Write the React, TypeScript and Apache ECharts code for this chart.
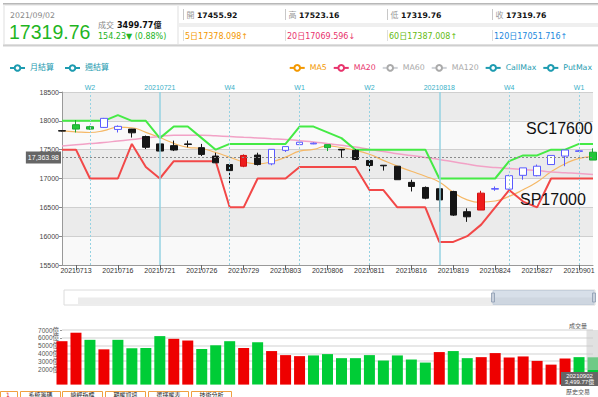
import React, { useEffect, useRef } from "react";
import * as echarts from "echarts";

// ---------------- data ----------------
const dates = [
  "20210712","20210713","20210714","20210715","20210716","20210719","20210720","20210721","20210722","20210723",
  "20210726","20210727","20210728","20210729","20210730","20210802","20210803","20210804","20210805","20210806",
  "20210809","20210810","20210811","20210812","20210813","20210816","20210817","20210818","20210819","20210820",
  "20210823","20210824","20210825","20210826","20210827","20210830","20210831","20210901","20210902",
];
const openPrice = [17830,17933,17898,17886,17851,17857,17728,17600,17570,17600,17535,17389,17242,17213,17406,17254,17488,17587,17600,17587,17506,17488,17313,17230,17213,16933,16845,16822,16775,16424,16453,16815,16816,17055,17049,17242,17389,17470,17455.92];
const closePrice = [17822,17857,17857,18043,17904,17792,17541,17476,17494,17590,17418,17272,17137,17400,17242,17506,17553,17629,17612,17535,17495,17330,17225,17220,16979,16862,16658,16629,16365,16336,16746,16825,17049,17184,17213,17400,17494,17480,17319.76];
const lowPrice = [17815,17798,17845,17880,17798,17710,17511,17460,17476,17541,17390,17272,16896,17196,17225,17230,17460,17587,17595,17476,17360,17313,17096,17137,16979,16775,16640,16424,16350,16248,16453,16787,16805,16979,17038,17242,17213,17460,17319.76];
const highPrice = [17836,18014,17915,18050,17921,17860,17745,17612,17657,17657,17600,17447,17271,17418,17447,17506,17553,17629,17625,17587,17506,17506,17330,17230,17213,16979,16862,16830,16787,16482,16787,16862,17066,17184,17242,17400,17494,17494,17523.16];
// k = black, g = green, r = red, b = blue hollow
const candleKind = "kggbbkkkkkkkkrkbbbbgkkkkkkkkkkrbbbbbbbg".split("");

const ma5 = [17827,17810,17798,17830,17890,17880,17800,17710,17610,17540,17520,17450,17370,17290,17255,17290,17370,17475,17505,17565,17535,17490,17420,17315,17215,17125,17040,16940,16760,16630,16590,16610,16690,16805,16940,17115,17255,17350,17378.098];
const ma20 = [17564,17585,17605,17625,17650,17675,17705,17730,17750,17752,17750,17740,17728,17715,17703,17690,17678,17655,17635,17605,17576,17545,17505,17470,17430,17400,17365,17330,17290,17250,17213,17190,17172,17155,17140,17114,17100,17088,17069.596];
const callMax = [18000,18000,18000,18000,18100,18000,18000,17700,17900,17900,17700,17500,17600,17600,17600,17600,17600,17900,17900,17800,17700,17500,17500,17500,17500,17500,17500,17000,17000,17000,17000,17000,17300,17400,17400,17500,17500,17600,17600];
const putMax = [17500,17500,17000,17000,17000,17600,17200,17000,17300,17300,17300,17300,16500,16500,17000,17000,17000,17200,17200,17200,17200,17200,16800,16800,16500,16500,16500,15900,15900,16000,16200,16500,16800,16600,16500,17000,17000,17000,17000];

const volume = [5565,6652,5740,4520,5740,4650,4690,6217,5870,5650,4565,5040,5565,4690,5430,4300,3780,3650,3740,3910,3390,3390,3780,3085,3740,3215,2825,4170,4300,3390,3520,4040,3475,3610,3040,2560,3345,3520,3499.77];
const volumeKind = ("rrgrg" + "gggrr" + "gggrg" + "rrrgg" + "ggggg" + "ggrgg" + "rrrrr" + "rrgg").split("");

const monthlySettle = [
  { date: "20210721", label: "20210721" },
  { date: "20210818", label: "20210818" },
];
const weeklySettle = [
  { date: "20210714", label: "W2" },
  { date: "20210728", label: "W4" },
  { date: "20210804", label: "W1" },
  { date: "20210811", label: "W2" },
  { date: "20210825", label: "W4" },
  { date: "20210901", label: "W1" },
];
const refPrice = 17363.98;
const priceMin = 15500, priceMax = 18500, priceStep = 500;
const volMin = 2000, volMax = 7000, volStep = 1000;

const headerDate = "2021/09/02";
const headerLast = "17319.76";
const headerTurnover = "3499.77億";
const headerChange = "154.23▼ (0.88%)";
const ohlcLabels = ["開", "高", "低", "收"];
const ohlcValues = ["17455.92", "17523.16", "17319.76", "17319.76"];
const maTexts = ["5日17378.098↑", "20日17069.596↓", "60日17387.008↑", "120日17051.716↑"];
const callText = "SC17600";
const putText = "SP17000";
const lastVolDate = "20210902";
const lastVolText = "3,499.77億";
const tabTexts = ["系統籌碼", "總經指標", "期權資訊", "選擇權表", "技術分析"];

// ---------------- styles ----------------
const FONT = "'DejaVu Sans','Noto Sans CJK TC',sans-serif";
const FONT2 = "'Liberation Sans','Noto Sans CJK TC',sans-serif";
const TEAL = "#1d9bb0";
const VLINE = "#95d2e2";
const kindStyle: Record<string, any> = {
  k: { color: "#151515", color0: "#151515", borderColor: "#151515", borderColor0: "#151515" },
  g: { color: "#22c83a", color0: "#22c83a", borderColor: "#1aa830", borderColor0: "#1aa830" },
  r: { color: "#ee1c1c", color0: "#ee1c1c", borderColor: "#d01010", borderColor0: "#d01010" },
  b: { color: "#ffffff", color0: "#ffffff", borderColor: "#5a5aff", borderColor0: "#5a5aff" },
};
const volColor: Record<string, string> = { r: "#ee0000", g: "#00cc36" };
const maColors = ["#f39800", "#e8336c", "#66bb11", "#2288dd"];
const cellX = [183.5, 285.5, 387.5, 492.5];

const txt = (x: number, y: number, text: string, fill: string, fontSize: number, o: any = {}) => ({
  type: "text",
  x,
  y,
  z: o.z ?? 10,
  style: {
    text,
    fill,
    fontSize,
    fontFamily: o.family ?? FONT,
    fontWeight: o.weight ?? "normal",
    align: o.align ?? "left",
    verticalAlign: "middle",
  },
});
const rect = (x: number, y: number, w: number, h: number, style: any, z = 1) => ({
  type: "rect",
  z,
  shape: { x, y, width: w, height: h },
  style,
});
const vline = (x: number, y1: number, y2: number, stroke: string) => ({
  type: "line",
  z: 5,
  shape: { x1: x, y1, x2: x, y2 },
  style: { stroke, lineWidth: 1 },
});

function buildOption() {
  const labelEvery = (i: number) => i % 3 === 1;

  const graphic: any[] = [
    rect(3, 3, 595, 43, { fill: "#efefef" }),
    rect(3, 3, 595, 1.5, { fill: "#b8b8b8" }, 2),
    rect(3, 44.5, 595, 2, { fill: "#cfcfcf" }, 2),
    rect(5, 6, 172, 38, { fill: "#ffffff" }, 2),
    rect(179, 6, 419, 17, { fill: "#ffffff" }, 2),
    rect(179, 27, 419, 17, { fill: "#ffffff" }, 2),
    txt(10, 15, headerDate, "#888", 7.8),
    txt(9, 31.5, headerLast, "#1fb51f", 19.5, { family: FONT2 }),
    txt(98, 25, "成交", "#888", 8),
    txt(117, 25, headerTurnover, "#111", 8, { weight: "bold" }),
    txt(98, 36, headerChange, "#22b422", 8),
  ];
  cellX.forEach((x, i) => {
    graphic.push(vline(x, 9, 20, "#c8c8c8"));
    graphic.push(vline(x, 30, 41, "#dddddd"));
    graphic.push(txt(x + 3, 15, ohlcLabels[i], "#999", 8));
    graphic.push(txt(x + 13.5, 15, ohlcValues[i], "#111", 7.7, { weight: "bold" }));
    graphic.push(txt(x + 1.5, 36, maTexts[i], maColors[i], 8));
  });
  // annotations
  graphic.push(txt(526, 128, callText, "#111", 16, { family: FONT2, z: 20 }));
  graphic.push(txt(520, 199, putText, "#111", 16, { family: FONT2, z: 20 }));
  // slider look
  graphic.push(rect(64, 290, 531, 15, { fill: "#ffffff", stroke: "#dcdcdc", lineWidth: 1 }, 2));
  graphic.push(rect(78, 297.5, 516, 7, { fill: "#ececec" }, 3));
  graphic.push(rect(493, 290.5, 101, 14, { fill: "rgba(176,192,212,0.5)", stroke: "#c5cfdb", lineWidth: 1 }, 4));
  graphic.push(rect(491.5, 293, 3, 9, { fill: "#c8d0dc", stroke: "#8a9ab0", lineWidth: 0.8 }, 5));
  graphic.push(rect(592.5, 293, 3, 9, { fill: "#c8d0dc", stroke: "#8a9ab0", lineWidth: 0.8 }, 5));
  // volume hover/label
  graphic.push(rect(586.5, 330, 11.5, 40, { fill: "rgba(200,200,200,0.55)" }, 100));
  graphic.push(txt(578, 325, "成交量", "#555", 6, { align: "center" }));
  graphic.push(rect(561, 372, 37, 14, { fill: "#666" }, 100));
  graphic.push(txt(579.5, 376.3, lastVolDate, "#fff", 6, { align: "center", family: FONT2, z: 101 }));
  graphic.push(txt(579.5, 382.3, lastVolText, "#fff", 6, { align: "center", family: FONT2, z: 101 }));
  graphic.push(txt(578, 391.5, "歷史交易", "#555", 6, { align: "center" }));
  // bottom tabs
  graphic.push(rect(0.5, 391.5, 17, 10, { fill: "#fff", stroke: "#f0a040", lineWidth: 1 }, 2));
  graphic.push(txt(6, 394.3, "1", "#e02020", 6, { z: 3 }));
  const tabX = [20.5, 62.5, 105.5, 148.5, 191.5];
  tabX.forEach((x, i) => {
    graphic.push(rect(x, 391.5, 40, 10, { fill: "#fff", stroke: "#f0a040", lineWidth: 1 }, 2));
    graphic.push(txt(x + 20, 394.3, tabTexts[i], "#222", 6, { align: "center", z: 3 }));
  });

  const candleData = dates.map((_, i) => ({
    value: [openPrice[i], closePrice[i], lowPrice[i], highPrice[i]],
    itemStyle: { ...kindStyle[candleKind[i]], borderWidth: 1 },
  }));
  const volData = volume.map((v, i) => ({ value: v, itemStyle: { color: volColor[volumeKind[i]] } }));

  const lineSeries = (name: string, data: number[], color: string, width: number, smooth: boolean) => ({
    name,
    type: "line",
    data,
    smooth,
    symbol: "emptyCircle",
    showSymbol: false,
    itemStyle: { color },
    lineStyle: { color, width },
    z: 3,
  });

  const legendItem = (name: string, color: string) => ({
    name,
    itemStyle: { color, borderColor: color, borderWidth: 2 },
    lineStyle: { color, width: 2 },
    textStyle: { color },
  });

  return {
    animation: false,
    backgroundColor: "#ffffff",
    textStyle: { fontFamily: FONT2 },
    graphic,
    legend: [
      {
        left: 4,
        top: 59,
        itemWidth: 15,
        itemHeight: 7,
        itemGap: 10,
        textStyle: { fontSize: 8, fontFamily: FONT },
        data: [legendItem("月結算", TEAL), legendItem("週結算", TEAL)],
      },
      {
        right: 1,
        top: 59,
        itemWidth: 15,
        itemHeight: 7,
        itemGap: 6,
        inactiveColor: "#aaaaaa",
        textStyle: { fontSize: 7.8, fontFamily: FONT },
        data: [
          legendItem("MA5", "#f39800"),
          legendItem("MA20", "#e8336c"),
          legendItem("MA60", "#aaaaaa"),
          legendItem("MA120", "#aaaaaa"),
          legendItem("CallMax", TEAL),
          legendItem("PutMax", TEAL),
        ],
        selected: { MA60: false, MA120: false },
      },
    ],
    grid: [
      { left: 62, right: 5, top: 92, height: 173 },
      { left: 62, right: 5, top: 330, height: 39 },
    ],
    xAxis: [
      {
        type: "category",
        gridIndex: 0,
        data: dates,
        boundaryGap: false,
        axisLine: { lineStyle: { color: "#999" } },
        axisTick: { show: true, interval: labelEvery, length: 5, lineStyle: { color: "#666" } },
        axisLabel: { interval: labelEvery, fontSize: 7, color: "#333", margin: 2, fontFamily: FONT2 },
        splitLine: { show: false },
      },
      {
        type: "category",
        gridIndex: 1,
        data: dates,
        boundaryGap: false,
        axisLine: { show: false },
        axisTick: { show: false },
        axisLabel: { show: false },
      },
    ],
    yAxis: [
      {
        type: "value",
        gridIndex: 0,
        min: priceMin,
        max: priceMax,
        interval: priceStep,
        axisLine: { show: true, lineStyle: { color: "#999" } },
        axisTick: { show: true, length: 3, lineStyle: { color: "#888" } },
        axisLabel: { fontSize: 7, color: "#444", margin: 3, fontFamily: FONT2, formatter: (v: number) => String(v) },
        splitLine: { show: true, lineStyle: { color: "#cfcfcf", width: 1 } },
        splitArea: { show: true, areaStyle: { color: ["#f9f9f9", "#ebebeb"] } },
      },
      {
        type: "value",
        gridIndex: 1,
        min: volMin,
        max: volMax,
        interval: volStep,
        axisLine: { show: false },
        axisTick: { show: true, length: 2, lineStyle: { color: "#999" } },
        axisLabel: { fontSize: 6.5, color: "#555", margin: 3, formatter: (v: number) => v + "億", fontFamily: FONT2 },
        splitLine: { show: true, lineStyle: { color: "#e0e0e0", width: 1.5 } },
      },
    ],
    series: [
      {
        name: "K",
        type: "candlestick",
        xAxisIndex: 0,
        yAxisIndex: 0,
        data: candleData,
        barWidth: 7,
        clip: false,
        z: 4,
        markLine: {
          silent: true,
          symbol: ["none", "none"],
          lineStyle: { color: "#8a8a8a", type: [2, 2], width: 1 },
          label: {
            position: "start",
            distance: 1,
            formatter: (p: any) =>
              Number(p.value).toLocaleString("en-US", { minimumFractionDigits: 2, maximumFractionDigits: 2 }),
            color: "#fff",
            backgroundColor: "#666",
            padding: [3, 2, 2, 2],
            fontSize: 7,
            fontFamily: FONT2,
          },
          data: [{ yAxis: refPrice }],
        },
      },
      lineSeries("MA5", ma5, "#f5b866", 1.2, true),
      lineSeries("MA20", ma20, "#f2a2c6", 1.5, true),
      lineSeries("MA60", [], "#aaaaaa", 1, true),
      lineSeries("MA120", [], "#aaaaaa", 1, true),
      lineSeries("CallMax", callMax, "#45ea45", 2, false),
      lineSeries("PutMax", putMax, "#f24848", 2, false),
      {
        name: "月結算",
        type: "line",
        data: [],
        symbol: "emptyCircle",
        itemStyle: { color: TEAL },
        lineStyle: { color: TEAL },
        markLine: {
          silent: true,
          symbol: ["none", "none"],
          lineStyle: { color: VLINE, type: "solid", width: 1.5 },
          label: { position: "end", distance: 1, formatter: "{b}", color: "#3ab0c8", fontSize: 7, fontFamily: FONT2 },
          data: monthlySettle.map((m) => ({ name: m.label, xAxis: m.date })),
        },
      },
      {
        name: "週結算",
        type: "line",
        data: [],
        symbol: "emptyCircle",
        itemStyle: { color: TEAL },
        lineStyle: { color: TEAL },
        markLine: {
          silent: true,
          symbol: ["none", "none"],
          lineStyle: { color: VLINE, type: [2, 2], width: 1 },
          label: { position: "end", distance: 1, formatter: "{b}", color: "#3ab0c8", fontSize: 7, fontFamily: FONT2 },
          data: weeklySettle.map((m) => ({ name: m.label, xAxis: m.date })),
        },
      },
      {
        name: "成交量",
        type: "bar",
        xAxisIndex: 1,
        yAxisIndex: 1,
        data: volData,
        barWidth: 11,
        clip: false,
      },
    ],
  };
}

export default function App() {
  const ref = useRef<HTMLDivElement>(null);
  useEffect(() => {
    if (!ref.current) return;
    const chart = echarts.init(ref.current, undefined, { renderer: "svg" });
    chart.setOption(buildOption() as any);
    return () => chart.dispose();
  }, []);
  return (
    <div
      ref={ref}
      style={{ position: "fixed", left: 0, top: 0, width: 598, height: 397, background: "#fff" }}
    />
  );
}
